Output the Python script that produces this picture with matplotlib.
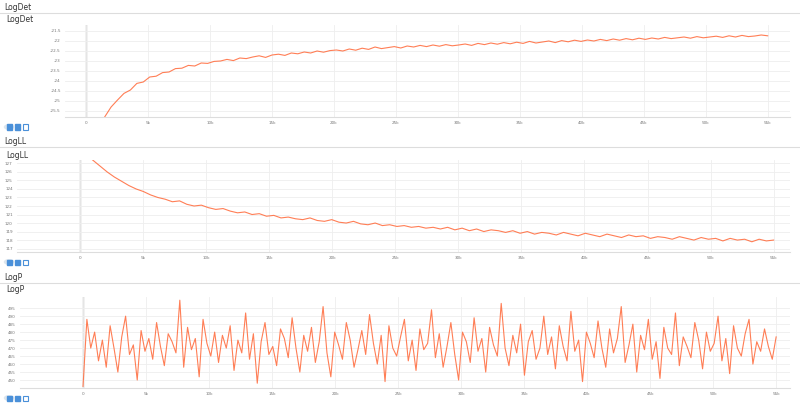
import numpy as np
import matplotlib
matplotlib.use("Agg")
import matplotlib.pyplot as plt
from matplotlib.patches import Rectangle, Circle

logdet_vals = [-25.80,-25.30,-24.95,-24.62,-24.45,-24.12,-24.05,-23.80,-23.76,-23.58,-23.55,-23.38,-23.36,-23.22,-23.25,-23.10,-23.12,-23.02,
 -23.00,-22.92,-22.98,-22.85,-22.88,-22.80,-22.74,-22.82,-22.70,-22.66,-22.72,-22.60,-22.64,-22.55,-22.60,-22.50,-22.56,-22.48,-22.45,
 -22.50,-22.40,-22.46,-22.36,-22.42,-22.30,-22.38,-22.33,-22.28,-22.35,-22.25,-22.30,-22.22,-22.28,-22.20,-22.26,-22.18,-22.24,-22.20,
 -22.15,-22.22,-22.12,-22.18,-22.10,-22.16,-22.08,-22.14,-22.06,-22.12,-22.02,-22.10,-22.05,-22.00,-22.08,-21.98,-22.04,-21.96,-22.02,
 -21.95,-22.00,-21.92,-21.98,-21.90,-21.96,-21.88,-21.94,-21.86,-21.92,-21.85,-21.90,-21.82,-21.88,-21.84,-21.80,-21.86,-21.78,-21.84,
 -21.80,-21.76,-21.82,-21.74,-21.80,-21.72,-21.78,-21.75,-21.70,-21.74]
logll_vals = [127.4,126.7,126.0,125.4,124.9,124.4,124.0,123.7,123.3,123.0,122.8,122.5,122.6,122.2,122.0,122.1,121.8,121.6,121.7,121.4,
 121.2,121.3,121.0,121.1,120.8,120.9,120.6,120.7,120.5,120.4,120.6,120.3,120.2,120.4,120.1,120.0,120.2,119.9,119.8,120.0,
 119.7,119.8,119.6,119.7,119.5,119.6,119.4,119.5,119.3,119.5,119.2,119.4,119.1,119.3,119.0,119.2,119.1,118.9,119.1,118.8,
 119.0,118.7,118.9,118.8,118.6,118.9,118.7,118.5,118.8,118.6,118.4,118.7,118.5,118.3,118.6,118.4,118.5,118.2,118.4,118.3,
 118.1,118.4,118.2,118.0,118.3,118.1,118.2,117.9,118.2,118.0,118.1,117.8,118.1,117.9,118.0]
logp_vals = [446,488,470,480,462,475,458,484,470,455,477,490,466,472,450,481,468,476,463,486,
 471,459,479,474,467,500,458,483,469,476,452,488,473,465,480,461,478,470,484,456,
 475,467,492,463,479,448,474,486,466,471,459,482,476,464,489,470,455,478,468,483,
 461,474,496,467,452,480,472,463,486,475,458,469,481,466,491,473,460,478,449,484,
 470,465,477,488,462,475,456,482,469,473,494,464,479,458,471,486,466,450,480,474,
 461,489,468,476,455,483,472,465,498,470,459,478,467,485,453,474,481,463,470,490,
 466,477,457,484,471,462,493,468,475,449,480,473,464,487,470,458,482,467,476,496,
 461,472,485,455,478,469,488,463,474,451,483,470,466,492,459,477,471,464,486,475,
 457,480,468,473,490,462,476,454,484,470,465,479,488,460,474,468,482,471,463,477]

logdet_steps = np.linspace(1500, 55000, len(logdet_vals))
logll_steps = np.linspace(1000, 55000, len(logll_vals))
logp_steps = np.linspace(0, 55000, len(logp_vals))

xticks = np.arange(0, 55001, 5000)
xticklabels = ["0"] + [f"{k}k" for k in range(5, 56, 5)]

W, H = 800, 407
fig = plt.figure(figsize=(8, 4.07), dpi=100)
C = "#ff7043"

def fx(px): return px / W
def fy(py): return 1 - py / H

def panel(rect, steps, vals, xlim, ylim, yticks, ylabels):
    l, t, r, b = rect
    ax = fig.add_axes([fx(l), fy(b), fx(r - l), (b - t) / H])
    ax.plot(steps, vals, color=C, lw=0.8, alpha=0.9)
    ax.axvline(0, color="#bbbbbb", lw=1, zorder=0)
    ax.set_xlim(*xlim); ax.set_ylim(*ylim)
    ax.set_xticks(xticks); ax.set_xticklabels(xticklabels)
    ax.set_yticks(yticks); ax.set_yticklabels(ylabels)
    ax.tick_params(labelsize=3, colors="#777777", length=0, pad=3)
    ax.grid(color="#eeeeee", lw=0.6)
    for s in ax.spines.values():
        s.set_visible(False)
    ax.spines["bottom"].set_visible(True); ax.spines["bottom"].set_color("#dddddd")
    return ax

dt = np.arange(-25.5, -21.4, 0.5)
panel((65, 25, 790, 117), logdet_steps, logdet_vals, (-1700, 56800), (-25.8, -21.2), dt, [f"{v:g}" for v in dt])
lt = np.arange(117, 128, 1)
panel((17, 160, 790, 252), logll_steps, logll_vals, (-5000, 56300), (116.6, 127.4), lt, [f"{v:g}" for v in lt])
pt = np.arange(450, 500, 5)
panel((20, 297, 790, 388), logp_steps, logp_vals, (-5000, 56100), (445, 502), pt, [f"{v:g}" for v in pt])

for ty, title, lineY, cardY, iconY in [(7, "LogDet", 13, 20, 127), (141, "LogLL", 147, 155, 262), (277, "LogP", 283, 290, 398)]:
    fig.text(fx(4), fy(ty), title, fontsize=5.5, va="center", color="#333333")
    fig.add_artist(plt.Line2D([0, 1], [fy(lineY), fy(lineY)], color="#dddddd", lw=0.8))
    fig.text(fx(6), fy(cardY), title, fontsize=5.5, va="center", color="#333333")
    fig.add_artist(Circle((fx(9), fy(iconY)), 4.5 / W, color="#dde6ee", transform=fig.transFigure))
    fig.add_artist(Rectangle((fx(6.5), fy(iconY + 2.5)), 5 / W, 5 / H, color="#4a90d9", transform=fig.transFigure))
    fig.add_artist(Rectangle((fx(15), fy(iconY + 2.5)), 5 / W, 5 / H, color="#4a90d9", transform=fig.transFigure))
    fig.add_artist(Rectangle((fx(23), fy(iconY + 2.5)), 5 / W, 5 / H, fill=False, ec="#4a90d9", lw=0.8, transform=fig.transFigure))

fig.savefig("out.png", dpi=100)
